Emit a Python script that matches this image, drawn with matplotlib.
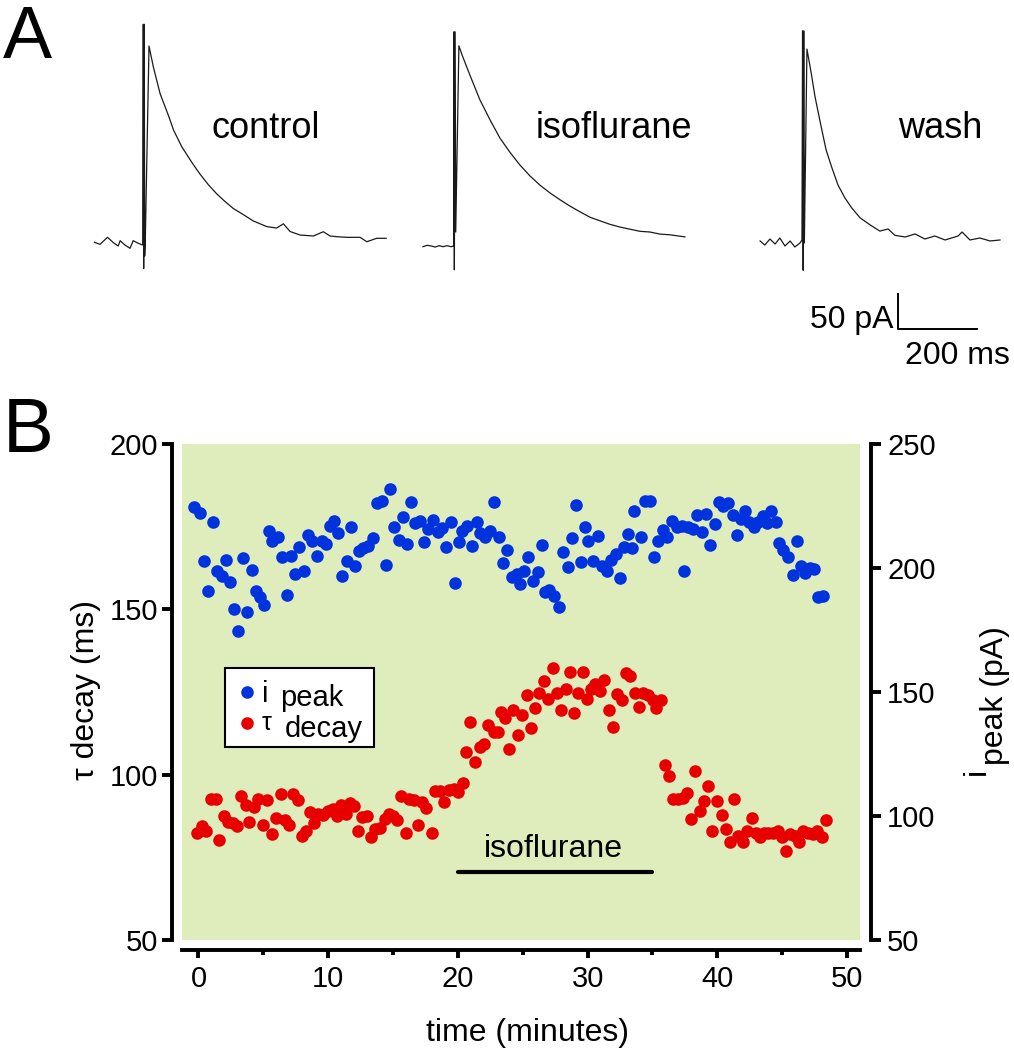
import matplotlib.pyplot as plt
import numpy as np

plt.rcParams['font.family'] = ['Liberation Sans', 'DejaVu Sans']

# ---- panel A: example currents (time in ms from stimulus, current in pA above baseline)
ctrl_ms = [-128, -114, -95, -80, -68, -63, -51, -38, -30, -17, -6, -4.5, -3.5, -2, -1, 0.5,
           10, 21, 38, 59, 72, 93, 118, 139, 160, 181, 202, 223, 249, 274, 308, 333, 350,
           367, 392, 426, 451, 468, 485, 510, 544, 561, 586, 610]
ctrl_pA = [-0.4, -3.3, 6.7, -1, -5.7, 1.9, -4.3, -9, 1.9, -1.9, -4.3, 311, -38, 311, -20, 0,
           280, 250, 212, 181, 160, 136, 114, 97, 82, 69, 58, 48, 39, 30, 22, 20, 26,
           15, 10, 8.6, 14.7, 8.6, 7.6, 6.7, 6.7, 0.4, 5.3, 5.3]

iso_ms = [-81, -70, -60, -50, -40, -30, -20, -10, -3, -2.5, -1.5, 0.5, 2, 10, 18, 38, 63, 89,
          114, 139, 164, 190, 215, 240, 266, 291, 316, 342, 367, 392, 418, 443, 468, 493,
          519, 544, 582]
iso_pA = [-1, 1, 0, -1.5, 0.5, -1, 0.5, -1, 0, 306, -34, 306, 20, 286, 273, 244, 209, 180,
          154, 134, 116, 100, 87, 76, 66, 57, 49, 41, 36, 31, 27, 24, 21, 20,
          17, 16, 13]

wash_ms = [-111, -99, -86, -73, -61, -48, -35, -23, -10, -5, -3.5, -2, -0.5, 1, 7.6, 18, 28,
           41, 56, 71, 86, 104, 121, 142, 167, 192, 213, 230, 256, 281, 306, 331, 357, 390,
           400, 420, 445, 471, 496]
wash_pA = [2.9, -2.9, 5.7, -1.4, 7.1, -4.3, 2.9, -5.7, 0, 4.3, 303, -39, 303, 0, 277, 244, 209,
           173, 133, 107, 83, 64, 50, 36, 26, 17, 20, 11, 8.6, 12.9, 5.7, 10, 4.3, 10,
           15.7, 4.3, 7.1, 2.9, 4.3]

# ---- panel B: time course (minutes)
blue_t = [-0.32, 0.12, 0.45, 0.76, 1.12, 1.45, 1.84, 2.1, 2.43, 2.76,
          3.07, 3.43, 3.76, 4.1, 4.41, 4.74, 5.08, 5.44, 5.69, 6.15,
          6.41, 6.8, 7.13, 7.44, 7.77, 8.13, 8.42, 8.73, 9.11, 9.5,
          9.8, 10.14, 10.45, 10.78, 11.09, 11.42, 11.76, 12.07, 12.37, 12.71,
          13.09, 13.43, 13.76, 14.12, 14.43, 14.79, 15.1, 15.48, 15.79, 16.05,
          16.35, 16.69, 17.08, 17.41, 17.72, 18.1, 18.44, 18.8, 19.1, 19.47,
          19.78, 20.11, 20.34, 20.73, 21.06, 21.45, 21.7, 22.09, 22.47, 22.81,
          23.17, 23.46, 23.81, 24.15, 24.53, 24.79, 25.12, 25.43, 25.77, 26.15,
          26.46, 26.72, 27.02, 27.43, 27.8, 28.13, 28.47, 28.77, 29.1, 29.47,
          29.8, 30.05, 30.44, 30.78, 31.09, 31.47, 31.8, 32.17, 32.5, 32.81,
          33.14, 33.45, 33.6, 34.12, 34.43, 34.81, 35.12, 35.45, 35.79, 36.15,
          36.48, 36.87, 37.26, 37.46, 37.76, 38.15, 38.46, 38.8, 39.13, 39.44,
          39.82, 40.13, 40.46, 40.85, 41.19, 41.5, 41.8, 42.14, 42.47, 42.83,
          43.16, 43.5, 43.81, 44.14, 44.5, 44.78, 45.09, 45.47, 45.81, 46.17,
          46.43, 46.76, 47.15, 47.48, 47.79, 48.17]
ipeak = [224.5, 222.1, 202.7, 190.8, 218.4, 198.9, 196.9, 203.2, 194.2, 183.5,
         174.6, 204.2, 182.4, 199.2, 190.6, 188.2, 185.1, 214.8, 210.8, 212.4,
         204.6, 189.2, 205.0, 197.6, 208.4, 198.9, 213.4, 211.0, 205.0, 211.0,
         209.7, 217.1, 219.1, 214.0, 196.9, 202.7, 216.7, 200.9, 206.7, 208.1,
         209.0, 212.1, 226.1, 227.1, 201.3, 231.9, 216.7, 211.3, 220.4, 209.7,
         226.6, 218.0, 219.1, 210.4, 215.7, 219.4, 214.4, 216.1, 208.6, 218.7,
         193.8, 210.6, 214.8, 217.1, 208.8, 218.4, 214.0, 212.4, 214.8, 226.7,
         212.4, 202.0, 207.3, 196.2, 197.6, 193.6, 198.7, 204.3, 194.9, 198.3,
         209.3, 190.2, 191.1, 188.8, 184.4, 206.6, 200.5, 212.1, 225.4, 202.4,
         216.4, 210.8, 203.0, 212.9, 200.9, 198.9, 203.2, 205.7, 195.8, 208.6,
         213.7, 208.1, 222.9, 212.6, 227.1, 227.1, 204.3, 211.0, 215.3, 212.4,
         219.1, 216.4, 217.1, 198.9, 216.7, 215.7, 221.4, 214.4, 221.8, 209.4,
         217.7, 226.7, 225.1, 226.1, 221.5, 213.3, 219.8, 222.9, 218.4, 216.4,
         218.4, 221.1, 218.0, 223.1, 218.4, 210.0, 207.3, 204.6, 197.2, 211.0,
         200.9, 198.0, 200.0, 199.6, 188.4, 188.8]

red_t = [-0.14, 0.25, 0.58, 0.96, 1.35, 1.6, 1.97, 2.3, 2.68, 2.99,
         3.25, 3.64, 3.92, 4.28, 4.61, 4.95, 5.3, 5.64, 5.98, 6.34,
         6.67, 7.0, 7.31, 7.69, 7.96, 8.29, 8.6, 8.9, 9.24, 9.62,
         9.96, 10.35, 10.66, 10.96, 11.35, 11.68, 11.99, 12.27, 12.63, 12.97,
         13.28, 13.61, 14.0, 14.38, 14.71, 15.02, 15.33, 15.59, 15.97, 16.25,
         16.62, 16.9, 17.21, 17.54, 17.98, 18.23, 18.62, 18.95, 19.34, 19.7,
         20.03, 20.37, 20.6, 20.93, 21.3, 21.7, 22.04, 22.3, 22.8, 23.07,
         23.3, 23.63, 23.96, 24.27, 24.66, 24.96, 25.3, 25.64, 25.94, 26.28,
         26.64, 26.97, 27.31, 27.62, 27.95, 28.31, 28.64, 28.97, 29.28, 29.62,
         29.93, 30.26, 30.57, 30.96, 31.29, 31.65, 31.98, 32.29, 32.67, 32.96,
         33.29, 33.62, 33.95, 34.3, 34.68, 35.07, 35.27, 35.66, 35.97, 36.3,
         36.61, 37.0, 37.35, 37.64, 37.97, 38.28, 38.67, 38.97, 39.26, 39.62,
         39.95, 40.34, 40.65, 40.98, 41.31, 41.62, 42.01, 42.31, 42.65, 42.96,
         43.29, 43.6, 43.93, 44.32, 44.66, 44.97, 45.3, 45.61, 45.99, 46.32,
         46.63, 46.97, 47.36, 47.67, 48.05, 48.36]
tau = [82.5, 84.5, 83, 92.6, 92.6, 80.3, 87.4, 85.6, 85.4, 84.5,
       93.4, 90.8, 85.6, 90.1, 92.6, 84.8, 92.3, 82, 86.8, 94.1,
       86.4, 84.8, 94.3, 92.3, 81.5, 83, 88.6, 85.4, 88.1, 87.8,
       89.1, 89.6, 87.6, 90.8, 88.1, 91.4, 90.6, 83, 87.1, 87.4,
       81.3, 83.5, 84, 86.5, 88.1, 87.4, 86.4, 93.6, 82.5, 92.6,
       92.3, 84.8, 91.6, 89.9, 82.5, 95.1, 95.1, 91.6, 95.4, 95.6,
       94.9, 97.6, 107, 115.8, 103.7, 108.5, 109.2, 115, 112.9, 112.9,
       119, 117, 107.7, 119.6, 111.9, 118, 124.1, 114, 120.3, 124.6,
       128.3, 123, 132.4, 124.6, 119.5, 125.8, 130.9, 118.5, 124.8, 130.9,
       122.8, 125.8, 127.3, 125.3, 128.6, 119.5, 114.4, 124.3, 122.6, 130.7,
       129.7, 124.6, 120.6, 124.8, 124, 122.6, 120.3, 122.5, 102.9, 99.6,
       92.6, 92.6, 93.0, 94.6, 86.6, 101.2, 89.1, 92, 96.6, 83,
       92, 87.8, 83.5, 79.5, 92.6, 81.5, 79.5, 83, 86.8, 82.5,
       81.3, 82.3, 82.3, 82.5, 83, 81, 77, 82, 81.5, 79.5,
       83, 82.3, 82, 83, 81, 86.4]

drug_start, drug_end = 20, 35

BLUE = '#0033dd'
RED = '#e80000'
GREEN = '#dfecbb'

fig = plt.figure(figsize=(10.14, 10.5), dpi=100)
W, H = 1014, 1050

# panel A, axes in ms / pA with 2.53 ms and 1.4286 pA per pixel
axA = fig.add_axes([0, 1 - 400 / H, 1, 400 / H])
axA.set_xlim(0, W * 2.53)
axA.set_ylim(0, 400 * 1.4286)
axA.axis('off')
for ms, pa, x0, y0 in [(ctrl_ms, ctrl_pA, 367, 225.7),
                       (iso_ms, iso_pA, 1151, 220.0),
                       (wash_ms, wash_pA, 2034, 224.3)]:
    axA.plot(np.array(ms) + x0, np.array(pa) + y0, color='#1a1a1a', lw=0.9)

# scale bar 50 pA / 200 ms
sx, sy = 2272, 101.4
axA.plot([sx, sx, sx + 200], [sy + 50, sy, sy], color='black', lw=1.4)
fig.text(893 / W, 1 - 328 / H, '50 pA', ha='right', va='baseline', fontsize=23)
fig.text(957 / W, 1 - 364 / H, '200 ms', ha='center', va='baseline', fontsize=23)

for txt, xc in [('control', 266), ('isoflurane', 614), ('wash', 940)]:
    fig.text(xc / W, 1 - 138 / H, txt, ha='center', va='baseline', fontsize=26)

fig.text(0.003, 1 - 58 / H, 'A', ha='left', va='baseline', fontsize=53)
fig.text(0.003, 1 - 452 / H, 'B', ha='left', va='baseline', fontsize=55)

# panel B
ax = fig.add_axes([182 / W, 1 - 940 / H, 678 / W, 496 / H])
ax.set_facecolor(GREEN)
ax.set_xlim(-1.27, 51)
ax.set_ylim(50, 200)
ax2 = ax.twinx()
ax2.set_ylim(50, 250)

ax.scatter(red_t, tau, s=82, color=RED, linewidths=0, zorder=3)
ax2.scatter(blue_t, ipeak, s=82, color=BLUE, linewidths=0, zorder=3)

ax.plot([drug_start, drug_end], [70.6, 70.6], color='black', lw=3, solid_capstyle='round')
ax.text((drug_start + drug_end) / 2 - 0.15, 75.1, 'isoflurane', ha='center', va='baseline', fontsize=23)

for s in ['top', 'right']:
    ax.spines[s].set_visible(False)
for s in ['top', 'left', 'bottom']:
    ax2.spines[s].set_visible(False)
ax.spines['left'].set_position(('outward', 7.2))
ax.spines['bottom'].set_position(('outward', 7))
ax2.spines['right'].set_position(('outward', 7.6))
for sp in [ax.spines['left'], ax.spines['bottom'], ax2.spines['right']]:
    sp.set_linewidth(2.8)

ax.set_xticks([0, 10, 20, 30, 40, 50])
ax.set_xticks([5, 15, 25, 35, 45], minor=True)
ax.set_yticks([50, 100, 150, 200])
ax2.set_yticks([50, 100, 150, 200, 250])
ax.tick_params(axis='x', which='major', length=6, width=2.8, labelsize=21, pad=5)
ax.tick_params(axis='x', which='minor', length=3.5, width=2.8)
ax.tick_params(axis='y', length=7, width=2.8, labelsize=21, pad=3)
ax2.tick_params(axis='y', length=7, width=2.8, labelsize=21, pad=5)

fig.text(527 / W, 1 - 1041 / H, 'time (minutes)', ha='center', va='baseline', fontsize=23)
fig.text(86 / W, 1 - 690 / H, 'τ decay (ms)', rotation=90, ha='center', va='center', fontsize=23)
fig.text(985 / W, 1 - 775 / H, 'i', rotation=90, rotation_mode='anchor',
         ha='left', va='baseline', fontsize=23)
fig.text(1003 / W, 1 - 765 / H, 'peak (pA)', rotation=90, rotation_mode='anchor',
         ha='left', va='baseline', fontsize=23)

# legend box
ax.add_patch(plt.Rectangle((0.0634, 0.389), 0.2198, 0.159, transform=ax.transAxes,
                           facecolor='white', edgecolor='black', lw=1.5, zorder=5))
ax.scatter([0.0954], [0.5006], s=82, color=BLUE, linewidths=0, transform=ax.transAxes, zorder=6)
ax.scatter([0.0954], [0.4369], s=82, color=RED, linewidths=0, transform=ax.transAxes, zorder=6)
ax.text(0.118, 0.4804, 'i', transform=ax.transAxes, va='baseline', fontsize=21, zorder=6)
ax.text(0.1445, 0.4718, 'peak', transform=ax.transAxes, va='baseline', fontsize=21, zorder=6)
ax.text(0.118, 0.423, 'τ', transform=ax.transAxes, va='baseline', fontsize=18, zorder=6)
ax.text(0.152, 0.410, 'decay', transform=ax.transAxes, va='baseline', fontsize=21, zorder=6)

fig.savefig('out.png', dpi=100)
